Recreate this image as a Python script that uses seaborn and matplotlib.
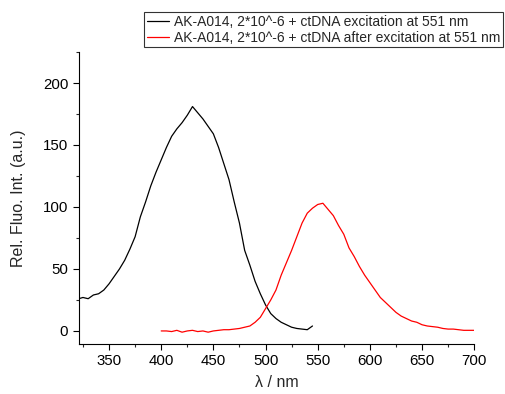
import numpy as np
import pandas as pd
import matplotlib
matplotlib.use("Agg")
import matplotlib.pyplot as plt
from matplotlib.ticker import MultipleLocator
import seaborn as sns

# excitation spectrum (black)
exc_wl = [321, 325, 330, 335, 340, 345, 350, 355, 360, 365, 370, 375, 380, 385,
          390, 395, 400, 405, 410, 415, 420, 425, 430, 435, 440, 445, 450, 455,
          460, 465, 470, 475, 480, 485, 490, 495, 500, 505, 510, 515, 520, 525,
          530, 535, 540, 545]
exc_int = [26, 27, 26, 29, 30, 33, 38, 44, 50, 57, 66, 76, 92, 104,
           117, 128, 138, 148, 157, 163, 168, 174, 181, 176, 171, 165, 159, 148,
           135, 122, 104, 87, 65, 53, 40, 30, 21, 14, 10, 7, 5, 3,
           2, 1.5, 1, 4]

# emission spectrum (red)
em_wl = [400, 405, 410, 415, 420, 425, 430, 435, 440, 445, 450, 455, 460, 465,
         470, 475, 480, 485, 490, 495, 500, 505, 510, 515, 520, 525, 530, 535,
         540, 545, 550, 555, 560, 565, 570, 575, 580, 585, 590, 595, 600, 605,
         610, 615, 620, 625, 630, 635, 640, 645, 650, 655, 660, 665, 670, 675,
         680, 685, 690, 695, 700]
em_int = [0, 0, -0.5, 0.5, -1, 0, 0.5, -0.5, 0, -1, 0, 0.5, 1, 1,
          1.5, 2, 3, 4, 7, 11, 18, 25, 33, 45, 55, 65, 76, 87,
          95, 99, 102, 103, 98, 93, 85, 78, 67, 60, 52, 45, 39, 33,
          27, 23, 19, 15, 12, 10, 8, 7, 5, 4, 3.5, 3, 2, 1.5,
          1.5, 1, 0.5, 0.5, 0.5]

labels = ["AK-A014, 2*10^-6 + ctDNA excitation at 551 nm",
          "AK-A014, 2*10^-6 + ctDNA after excitation at 551 nm"]

sns.set_style("ticks")
plt.rcParams["font.family"] = ["Liberation Sans", "DejaVu Sans"]
plt.rcParams["font.size"] = 10

fig = plt.figure(figsize=(5.05, 3.94), dpi=100)
ax = fig.add_axes([0.156, 0.127, 0.783, 0.741])

sns.lineplot(x=exc_wl, y=exc_int, color="black", lw=0.9, ax=ax, label=labels[0])
sns.lineplot(x=em_wl, y=em_int, color="red", lw=0.9, ax=ax, label=labels[1])

ax.set_xlim(321, 700)
ax.set_ylim(-10.5, 225)
ax.xaxis.set_major_locator(MultipleLocator(50))
ax.xaxis.set_minor_locator(MultipleLocator(25))
ax.yaxis.set_major_locator(MultipleLocator(50))
ax.yaxis.set_minor_locator(MultipleLocator(25))
ax.tick_params(which="major", length=4, width=0.8, direction="out", labelsize=10.8, colors="black")
ax.tick_params(which="minor", length=2.5, width=0.8, direction="out")
sns.despine(ax=ax)
for s in ["left", "bottom"]:
    ax.spines[s].set_linewidth(0.8)
    ax.spines[s].set_color("black")

ax.set_xlabel("λ / nm", fontsize=11.5, labelpad=5)
ax.set_ylabel("Rel. Fluo. Int. (a.u.)", fontsize=11.5, labelpad=12)

handles, lbls = ax.get_legend_handles_labels()
ax.get_legend().remove()
leg = fig.legend(handles, lbls, loc="upper right", bbox_to_anchor=(0.997, 0.97),
                 frameon=True, fancybox=False, edgecolor="black", fontsize=10,
                 handlelength=1.6, handletextpad=0.4, borderpad=0.2,
                 labelspacing=0.15, borderaxespad=0)
leg.get_frame().set_linewidth(0.8)

plt.savefig("out.png", dpi=100)
